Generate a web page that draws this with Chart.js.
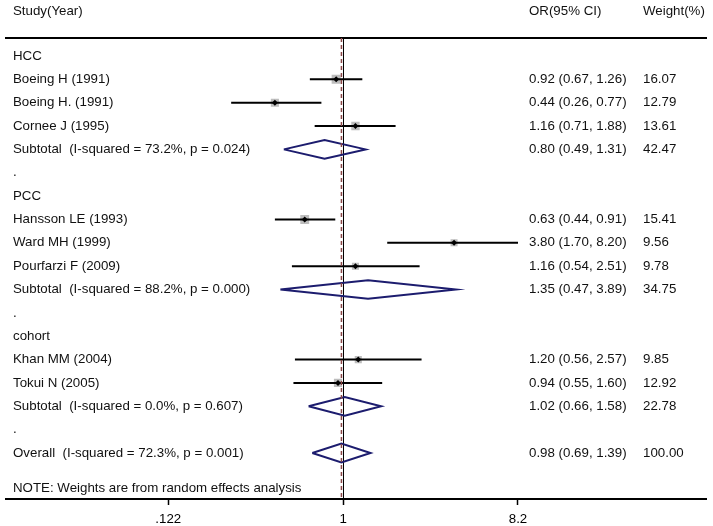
<!DOCTYPE html>
<html>
<head>
<meta charset="utf-8">
<script src="https://cdn.jsdelivr.net/npm/chart.js@4.4.1/dist/chart.umd.min.js"></script>
<style>
  html, body { margin: 0; padding: 0; background: #fff; }
  #wrap { width: 713px; height: 526px; }
</style>
</head>
<body>
<div id="wrap"><canvas id="forest" width="713" height="526"></canvas></div>
<script>
// Filas del gráfico, de arriba abajo (índice de fila = posición en la lista)
const rowLabels = [
  'HCC',
  'Boeing H (1991)',
  'Boeing H. (1991)',
  'Cornee J (1995)',
  'Subtotal  (I-squared = 73.2%, p = 0.024)',
  '.',
  'PCC',
  'Hansson LE (1993)',
  'Ward MH (1999)',
  'Pourfarzi F (2009)',
  'Subtotal  (I-squared = 88.2%, p = 0.000)',
  '.',
  'cohort',
  'Khan MM (2004)',
  'Tokui N (2005)',
  'Subtotal  (I-squared = 0.0%, p = 0.607)',
  '.',
  'Overall  (I-squared = 72.3%, p = 0.001)',
];

// Estudios individuales
const studyRows   = [1, 2, 3, 7, 8, 9, 13, 14];
const studyOR     = [0.92, 0.44, 1.16, 0.63, 3.80, 1.16, 1.20, 0.94];
const studyLo     = [0.67, 0.26, 0.71, 0.44, 1.70, 0.54, 0.56, 0.55];
const studyHi     = [1.26, 0.77, 1.88, 0.91, 8.20, 2.51, 2.57, 1.60];
const studyWeight = [16.07, 12.79, 13.61, 15.41, 9.56, 9.78, 9.85, 12.92];

// Subtotales y global (rombos)
const pooledRows   = [4, 10, 15, 17];
const pooledOR     = [0.80, 1.35, 1.02, 0.98];
const pooledLo     = [0.49, 0.47, 0.66, 0.69];
const pooledHi     = [1.31, 3.89, 1.58, 1.39];
const pooledWeight = [42.47, 34.75, 22.78, 100.00];

const tickValues = [0.122, 1, 8.2];
const tickLabels = ['.122', '1', '8.2'];
const headers = ['Study(Year)', 'OR(95% CI)', 'Weight(%)'];
const noteText = 'NOTE: Weights are from random effects analysis';

// límites y estilo
const X_MIN = 0.0174, X_MAX = 79.3;
const Y_MIN = -0.77, Y_MAX = 18.97;
const HEADER_ROW = -1.9, NOTE_ROW = 18.5;
const DIAMOND_HALF = 0.4;
const AXIS_H = 27;
const FONT = '13.3px "Liberation Sans", Arial, sans-serif';
const TEXT = '#111';
const NAVY = '#1c1c6e';
const COL_STUDY = 13, COL_OR = 529, COL_W = 643;

const fmt = v => v.toFixed(2);
const ciText = (o, l, h) => `${fmt(o)} (${fmt(l)}, ${fmt(h)})`;

// segmentos de IC separados por huecos
const ciData = [];
studyRows.forEach((r, i) => {
  ciData.push({ x: studyLo[i], y: r }, { x: studyHi[i], y: r }, { x: null, y: null });
});

const diamondData = [];
pooledRows.forEach((r, i) => {
  diamondData.push(
    { x: pooledLo[i], y: r },
    { x: pooledOR[i], y: r - DIAMOND_HALF },
    { x: pooledHi[i], y: r },
    { x: pooledOR[i], y: r + DIAMOND_HALF },
    { x: pooledLo[i], y: r },
    { x: null, y: null });
});

const pointData = studyRows.map((r, i) => ({ x: studyOR[i], y: r }));
const overallOR = pooledOR[pooledOR.length - 1];

const textPlugin = {
  id: 'forestText',
  afterDraw(chart) {
    const { ctx } = chart;
    const ys = chart.scales.y;
    ctx.save();
    ctx.font = FONT;
    ctx.fillStyle = TEXT;
    ctx.textAlign = 'left';
    ctx.textBaseline = 'middle';
    const hy = ys.getPixelForValue(HEADER_ROW);
    ctx.fillText(headers[0], COL_STUDY, hy);
    ctx.fillText(headers[1], COL_OR, hy);
    ctx.fillText(headers[2], COL_W, hy);
    rowLabels.forEach((t, i) => ctx.fillText(t, COL_STUDY, ys.getPixelForValue(i)));
    studyRows.forEach((r, i) => {
      const py = ys.getPixelForValue(r);
      ctx.fillText(ciText(studyOR[i], studyLo[i], studyHi[i]), COL_OR, py);
      ctx.fillText(fmt(studyWeight[i]), COL_W, py);
    });
    pooledRows.forEach((r, i) => {
      const py = ys.getPixelForValue(r);
      ctx.fillText(ciText(pooledOR[i], pooledLo[i], pooledHi[i]), COL_OR, py);
      ctx.fillText(fmt(pooledWeight[i]), COL_W, py);
    });
    ctx.fillText(noteText, COL_STUDY, ys.getPixelForValue(NOTE_ROW));
    ctx.restore();
  },
};

new Chart(document.getElementById('forest'), {
  type: 'scatter',
  data: {
    datasets: [
      { // línea discontinua del efecto global
        data: [{ x: overallOR, y: Y_MIN }, { x: overallOR, y: Y_MAX }],
        showLine: true, borderColor: '#8b4747', borderWidth: 1.5, borderDash: [4, 3],
        pointRadius: 0,
      },
      { // punto central
        data: pointData,
        pointStyle: 'rectRot', pointRadius: 3, backgroundColor: '#000', borderWidth: 0,
      },
      { // IC
        data: ciData,
        showLine: true, spanGaps: false, borderColor: '#000', borderWidth: 2,
        pointRadius: 0, tension: 0,
      },
      { // caja proporcional al peso
        data: pointData,
        pointStyle: 'rect', pointRadius: studyWeight.map(w => 1.6 * Math.sqrt(w)),
        backgroundColor: '#bdbdbd', borderWidth: 0,
      },
      { // rombos
        data: diamondData,
        showLine: true, spanGaps: false, borderColor: NAVY, borderWidth: 2,
        pointRadius: 0, tension: 0, fill: false,
      },
    ],
  },
  options: {
    responsive: false,
    animation: false,
    devicePixelRatio: 1,
    events: [],
    layout: { padding: { top: 38, left: 4, right: 3, bottom: 0 } },
    plugins: { legend: { display: false }, tooltip: { enabled: false } },
    scales: {
      x: {
        type: 'logarithmic',
        min: X_MIN, max: X_MAX,
        bounds: 'data',
        afterBuildTicks: s => { s.ticks = tickValues.map(v => ({ value: v })); },
        afterFit: s => { s.height = AXIS_H; },
        ticks: {
          autoSkip: false, maxRotation: 0, padding: 6,
          color: '#000',
          font: { family: '"Liberation Sans", Arial, sans-serif', size: 13.3 },
          callback: (v, i) => tickLabels[i],
        },
        grid: {
          color: c => (c.tick && c.tick.value === 1 ? '#000' : 'rgba(0,0,0,0)'),
          lineWidth: 1, tickColor: '#000', tickLength: 6, tickWidth: 1.5,
        },
        border: { display: true, color: '#000', width: 2 },
      },
      x2: {
        type: 'linear', position: 'top', min: 0, max: 1,
        ticks: { display: false },
        grid: { display: false, drawTicks: false },
        border: { display: true, color: '#000', width: 2 },
      },
      y: { type: 'linear', reverse: true, min: Y_MIN, max: Y_MAX, display: false },
    },
  },
  plugins: [textPlugin],
});
</script>
</body>
</html>
